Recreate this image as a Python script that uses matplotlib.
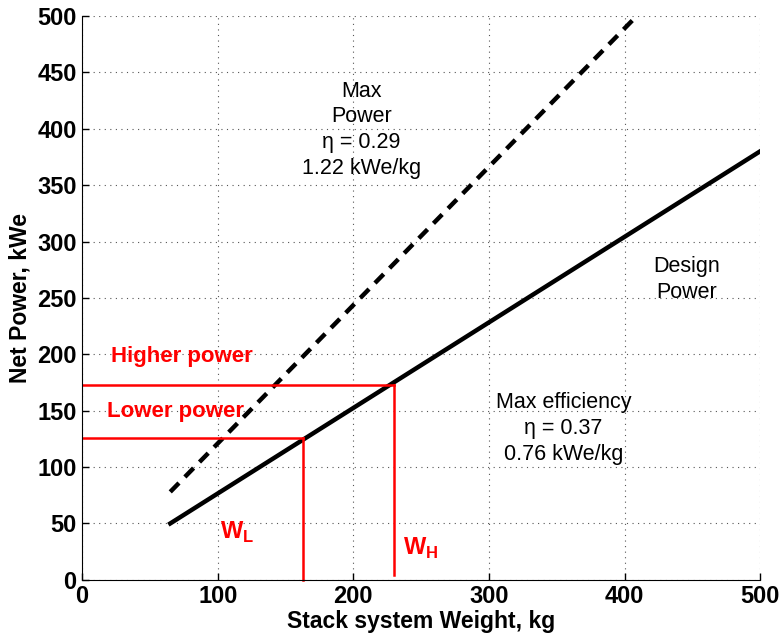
import numpy as np
import matplotlib
matplotlib.use('Agg')
import matplotlib.pyplot as plt

plt.rcParams['font.family'] = ['Liberation Sans', 'DejaVu Sans']
plt.rcParams['mathtext.fontset'] = 'custom'
plt.rcParams['mathtext.rm'] = 'Liberation Sans'
plt.rcParams['mathtext.bf'] = 'Liberation Sans:bold'

# design power line (max efficiency)
design_w = [65, 500]
design_p = [50, 380]

# max power line
maxp_w = [65, 409]
maxp_p = [78, 500]

# operating points
w_low, p_low = 163, 126
w_high, p_high = 230, 173

x_ticks = [0, 100, 200, 300, 400, 500]
y_ticks = [0, 50, 100, 150, 200, 250, 300, 350, 400, 450, 500]

fig = plt.figure(figsize=(7.82, 6.4), dpi=100)
ax = fig.add_axes([0.105, 0.094, 0.867, 0.881])

ax.plot(maxp_w, maxp_p, color='black', lw=3.2, ls=(0, (2.8, 1.9)), solid_capstyle='butt')
ax.plot(design_w, design_p, color='black', lw=3.2)

red = '#ff0000'
ax.plot([0, w_high], [p_high, p_high], color=red, lw=1.8)
ax.plot([w_high, w_high], [p_high, 4], color=red, lw=1.8)
ax.plot([0, w_low], [p_low, p_low], color=red, lw=1.8)
ax.plot([w_low, w_low], [p_low, 0], color=red, lw=1.8, clip_on=False)

ax.text(21, 198, 'Higher power', color=red, fontsize=16, fontweight='bold', va='center')
ax.text(18, 149, 'Lower power', color=red, fontsize=16, fontweight='bold', va='center')
ax.text(114, 42, r'$\mathbf{W}_\mathbf{L}$', color=red, fontsize=17, ha='center', va='center')
ax.text(250, 28, r'$\mathbf{W}_\mathbf{H}$', color=red, fontsize=17, ha='center', va='center')

ax.text(206, 399, 'Max\nPower\n\u03b7 = 0.29\n1.22 kWe/kg', fontsize=15.5, ha='center',
        va='center', linespacing=1.3)
ax.text(446, 266, 'Design\nPower', fontsize=15.5, ha='center', va='center', linespacing=1.3)
ax.text(355, 134, 'Max efficiency\n\u03b7 = 0.37\n0.76 kWe/kg', fontsize=15.5, ha='center',
        va='center', linespacing=1.3)

ax.set_xlim(0, 500)
ax.set_ylim(0, 500)
ax.set_xticks(x_ticks)
ax.set_yticks(y_ticks)
ax.tick_params(direction='in', length=5, width=1, labelsize=17, pad=4)
for lbl in ax.get_xticklabels() + ax.get_yticklabels():
    lbl.set_fontweight('bold')
ax.grid(True, ls=(0, (1, 4)), color='#555555', lw=0.8)
ax.spines['top'].set_visible(False)
ax.spines['right'].set_visible(False)

ax.set_xlabel('Stack system Weight, kg', fontsize=16.5, fontweight='bold', labelpad=1)
ax.set_ylabel('Net Power, kWe', fontsize=16.5, fontweight='bold', labelpad=4)

fig.savefig('out.png', dpi=100)
